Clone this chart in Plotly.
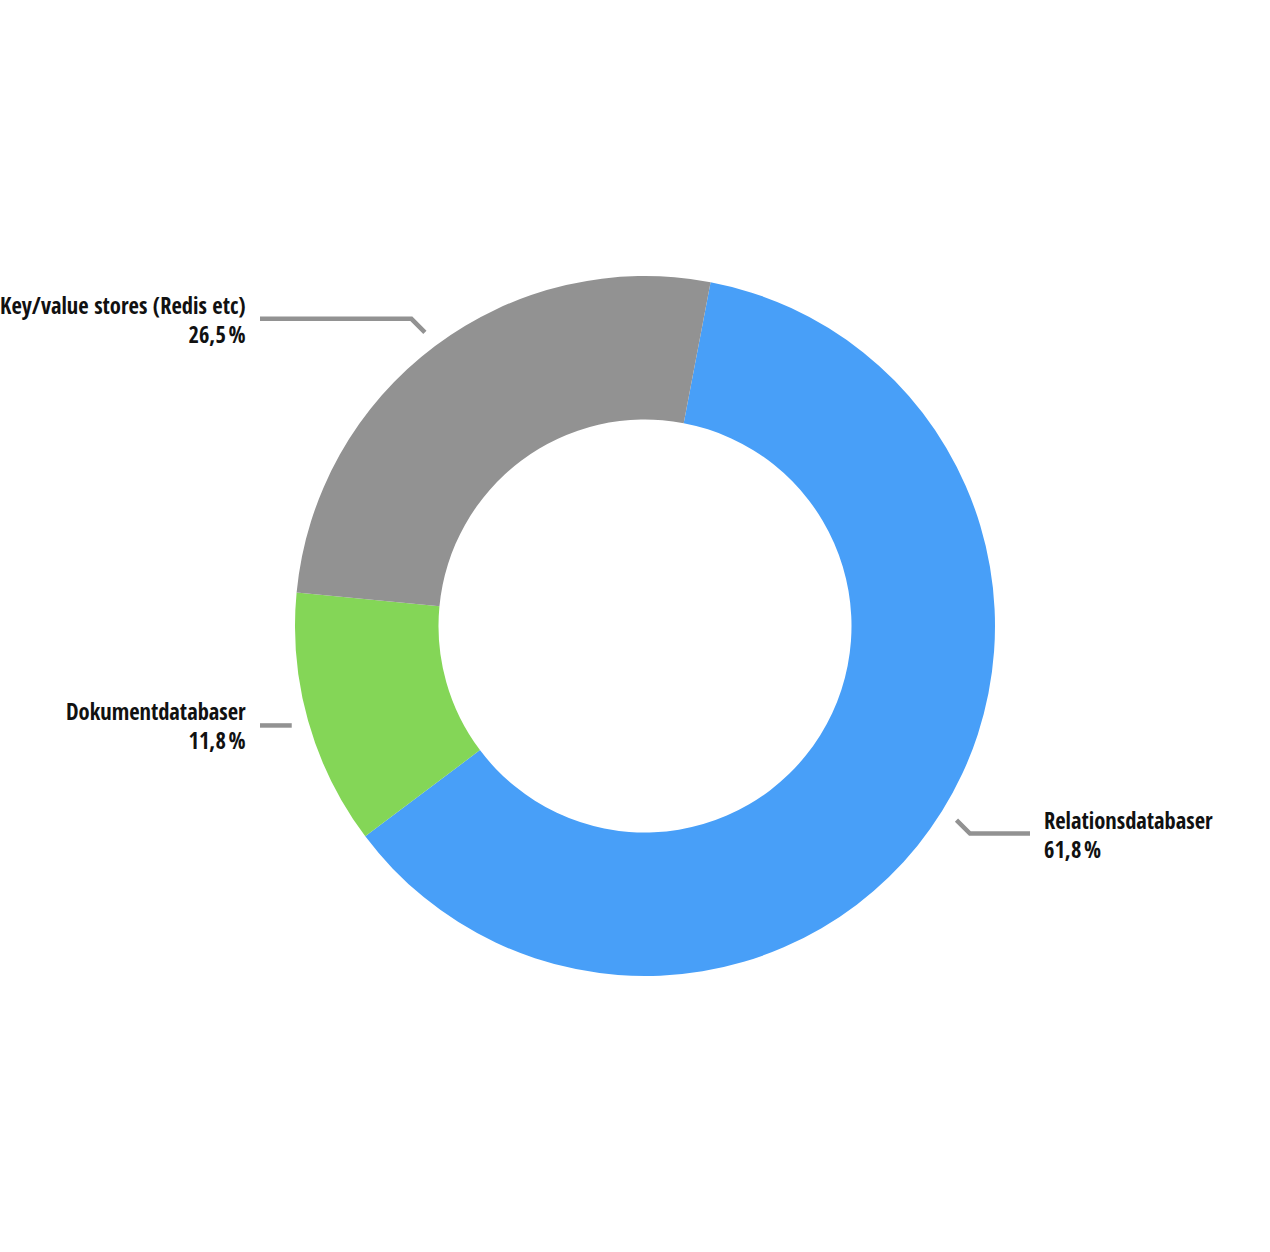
import math
import plotly.graph_objects as go

# ---- data ----
categories = ["Relationsdatabaser", "Dokumentdatabaser", "Key/value stores (Redis etc)"]
values = [61.8, 11.8, 26.5]
value_labels = ["61,8\u202f%", "11,8\u202f%", "26,5\u202f%"]
colors = ["#489ff8", "#84d657", "#929292"]

# ---- layout constants ----
W, H = 1270, 1252
CX, CY, R = 645, 626, 350          # pie centre / outer radius (px)
HOLE = 0.59
ROTATION = 10.8
R1 = R + 17                        # leader start radius
DIAG = 13.5                        # 45-degree leader segment length (px, each axis)
XEND = R + 35                      # horizontal end offset from centre
GAP = 12
FONT = ("Noto Sans Condensed, Open Sans Condensed, Roboto Condensed, "
        "Liberation Sans Narrow, DejaVu Sans Condensed, sans-serif")
FONT_SIZE = 22.5
LINE_COLOR = "#929292"


def px2paper(x, y):
    return x / W, 1 - y / H


fig = go.Figure(go.Pie(
    labels=categories,
    values=values,
    hole=HOLE,
    sort=False,
    direction="clockwise",
    rotation=ROTATION,
    marker=dict(colors=colors, line=dict(width=0)),
    textinfo="none",
    hoverinfo="label+percent",
    showlegend=False,
    domain=dict(x=[(CX - R) / W, (CX + R) / W], y=[(H - CY - R) / H, (H - CY + R) / H]),
))

total = sum(values)
cum = 0.0
shapes, annotations = [], []
for cat, v, vl in zip(categories, values, value_labels):
    mid = math.radians(ROTATION + (cum + v / 2) / total * 360)
    cum += v
    sx, sy = math.sin(mid), -math.cos(mid)
    side = 1 if sx > 0 else -1
    x1, y1 = CX + R1 * sx, CY + R1 * sy
    if abs(sy) < 0.35:                 # near-horizontal: straight leader
        ex, ey = x1, y1
    else:
        ex, ey = x1 + side * DIAG, y1 + (1 if sy > 0 else -1) * DIAG
    hx = CX + side * XEND
    p = [px2paper(*pt) for pt in [(x1, y1), (ex, ey), (hx, ey)]]
    path = "M {} {} L {} {} L {} {}".format(p[0][0], p[0][1], p[1][0], p[1][1], p[2][0], p[2][1])
    shapes.append(dict(type="path", xref="paper", yref="paper", path=path,
                       line=dict(color=LINE_COLOR, width=4.5)))
    tx, ty = px2paper(hx + side * GAP, ey + 1)
    annotations.append(dict(
        x=tx, y=ty, xref="paper", yref="paper",
        text=f"{cat}<br>{vl}", showarrow=False,
        xanchor="left" if side > 0 else "right", yanchor="middle",
        align="left" if side > 0 else "right",
        font=dict(family=FONT, size=FONT_SIZE, color="#111111", weight="bold"),
    ))

fig.update_layout(
    width=W, height=H,
    margin=dict(l=0, r=0, t=0, b=0),
    paper_bgcolor="white", plot_bgcolor="white",
    shapes=shapes, annotations=annotations,
)

fig.write_html("out.html", config={"displayModeBar": False},
               post_script="document.body.style.margin='0';")
